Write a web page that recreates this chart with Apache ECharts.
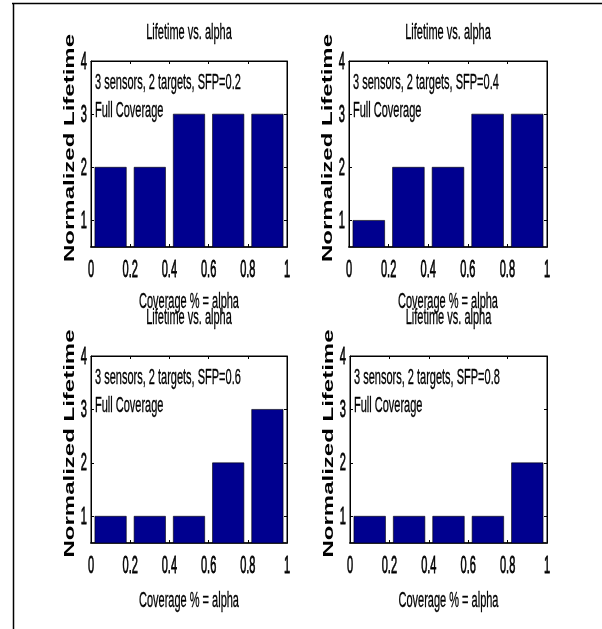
<!DOCTYPE html>
<html>
<head>
<meta charset="utf-8">
<script src="https://cdn.jsdelivr.net/npm/echarts@6/dist/echarts.min.js"></script>
<style>
  html, body { margin: 0; padding: 0; background: #fff; }
  #chart { width: 602px; height: 629px; }
</style>
</head>
<body>
<div id="chart"></div>
<script>
// Bar centres along the coverage axis (alpha bins)
const alphaCenters = [0.1, 0.3, 0.5, 0.7, 0.9];
// Normalized lifetime per bin, one array per sensor failure probability
const lifetimeSFP02 = [2, 2, 3, 3, 3];
const lifetimeSFP04 = [1, 2, 2, 3, 3];
const lifetimeSFP06 = [1, 1, 1, 2, 3];
const lifetimeSFP08 = [1, 1, 1, 1, 2];
const sfpLabels = ['0.2', '0.4', '0.6', '0.8'];
// Axis ranges and tick labels
const xMin = 0, xMax = 1, xStep = 0.2;
const yMin = 0.5, yMax = 4;
const xTickValues = [0, 0.2, 0.4, 0.6, 0.8, 1];
const xTickLabels = ['0', '0.2', '0.4', '0.6', '0.8', '1'];
const yTickValues = [1, 2, 3, 4];
const yTickLabels = ['1', '2', '3', '4'];
const titleText = 'Lifetime vs. alpha';
const xLabelText = 'Coverage % = alpha';
const yLabelText = 'Normalized Lifetime';
const noteLine2 = 'Full Coverage';

const panels = [lifetimeSFP02, lifetimeSFP04, lifetimeSFP06, lifetimeSFP08];

// Layout of the 2x2 subplot grid (pixels)
const gridBoxes = [
  { left: 91,  top: 61,  width: 196, height: 186, titleY: 33,  xlabY: 302 },
  { left: 349, top: 61,  width: 198, height: 186, titleY: 33,  xlabY: 302 },
  { left: 91,  top: 356, width: 196, height: 187, titleY: 318, xlabY: 601 },
  { left: 350, top: 356, width: 197, height: 187, titleY: 318, xlabY: 601 }
];

const BAR_HALF = 0.08;          // bar width 0.8 of the 0.2 spacing
const BAR_COLOR = '#00008F';
const SANS = '"Liberation Sans", Arial, sans-serif';
const FONT_SIZE = 22;
const TICK_FONT_SIZE = 24;
const SQUEEZE = 0.5;            // tall, condensed lettering
const TICK_SQUEEZE = 0.46;

const grid = [], xAxis = [], yAxis = [], series = [];

const tickStyle = { show: true, inside: true, length: 3, lineStyle: { color: '#000' } };

function textEl(x, y, text, opts) {
  opts = opts || {};
  return Object.assign({
    type: 'text', x: x, y: y, z: 100,
    scaleX: SQUEEZE,
    style: Object.assign({
      text: text, fill: '#000', fontFamily: SANS, fontSize: FONT_SIZE,
      stroke: '#000', lineWidth: 0.35,
      textAlign: 'center', textVerticalAlign: 'middle', align: 'center', verticalAlign: 'middle'
    }, opts.style || {})
  }, opts.el || {});
}

gridBoxes.forEach((g, i) => {
  grid.push({
    left: g.left, top: g.top, width: g.width, height: g.height,
    show: true, borderColor: '#000', borderWidth: 1, backgroundColor: '#fff'
  });
  // bottom x axis
  xAxis.push({
    gridIndex: i, type: 'value', position: 'bottom',
    min: xMin, max: xMax, interval: xStep,
    axisLine: { show: true, onZero: false, lineStyle: { color: '#222', width: 2 } },
    axisTick: tickStyle, axisLabel: { show: false }, splitLine: { show: false }
  });
  // top x axis: ticks only
  xAxis.push({
    gridIndex: i, type: 'value', position: 'top',
    min: xMin, max: xMax, interval: xStep,
    axisLine: { show: true, onZero: false, lineStyle: { color: '#000', width: 1 } },
    axisTick: tickStyle, axisLabel: { show: false }, splitLine: { show: false }
  });
  // left y axis
  yAxis.push({
    gridIndex: i, type: 'value', position: 'left',
    min: yMin, max: yMax,
    axisLine: { show: true, onZero: false, lineStyle: { color: '#000', width: 1 } },
    axisTick: Object.assign({ customValues: yTickValues }, tickStyle),
    axisLabel: { show: false, customValues: yTickValues }, splitLine: { show: false }
  });
  // right y axis: ticks only
  yAxis.push({
    gridIndex: i, type: 'value', position: 'right',
    min: yMin, max: yMax,
    axisLine: { show: true, onZero: false, lineStyle: { color: '#000', width: 1 } },
    axisTick: Object.assign({ customValues: yTickValues }, tickStyle),
    axisLabel: { show: false, customValues: yTickValues }, splitLine: { show: false }
  });

  // bars
  series.push({
    type: 'custom',
    xAxisIndex: i * 2, yAxisIndex: i * 2,
    data: alphaCenters.map((a, k) => [a, panels[i][k]]),
    clip: true, z: 1,
    renderItem: function (params, api) {
      const x = api.value(0), v = api.value(1);
      const p0 = api.coord([x - BAR_HALF, v]);
      const p1 = api.coord([x + BAR_HALF, yMin]);
      return {
        type: 'rect',
        shape: { x: p0[0], y: p0[1], width: p1[0] - p0[0], height: p1[1] - p0[1] },
        style: { fill: BAR_COLOR, stroke: '#000', lineWidth: 0.6 }
      };
    }
  });
});

const chart = echarts.init(document.getElementById('chart'), null, { renderer: 'canvas' });
chart.setOption({
  animation: false,
  backgroundColor: '#fff',
  grid: grid, xAxis: xAxis, yAxis: yAxis, series: series
});

// Text layer: tick labels are positioned through each grid's axis scales
const graphic = [];
gridBoxes.forEach((g, i) => {
  const finder = { xAxisIndex: i * 2, yAxisIndex: i * 2 };
  xTickValues.forEach((v, k) => {
    const p = chart.convertToPixel(finder, [v, yMin]);
    graphic.push(textEl(p[0], p[1] + 23, xTickLabels[k],
      { el: { scaleX: TICK_SQUEEZE }, style: { fontSize: TICK_FONT_SIZE, lineWidth: 0.8 } }));
  });
  yTickValues.forEach((v, k) => {
    const p = chart.convertToPixel(finder, [xMin, v]);
    graphic.push(textEl(p[0] - 4, p[1] + 1, yTickLabels[k],
      { el: { scaleX: TICK_SQUEEZE }, style: { fontSize: TICK_FONT_SIZE, lineWidth: 0.8, textAlign: 'right', align: 'right' } }));
  });

  const cx = g.left + g.width / 2;
  const cy = g.top + g.height / 2;
  graphic.push(textEl(cx, g.titleY, titleText));
  graphic.push(textEl(cx, g.xlabY, xLabelText));
  graphic.push(textEl(g.left + 4, g.top + 22, '3 sensors, 2 targets, SFP=' + sfpLabels[i],
    { style: { textAlign: 'left', align: 'left' } }));
  graphic.push(textEl(g.left + 4, g.top + 50, noteLine2,
    { style: { textAlign: 'left', align: 'left' } }));
  graphic.push(textEl(g.left - 21, cy - 6, yLabelText,
    { el: { rotation: Math.PI / 2, scaleX: 1.6 }, style: { fontSize: 15, fontWeight: 'bold', lineWidth: 0 } }));
});

// figure frame (top and left edges)
graphic.push({ type: 'line', z: 100, shape: { x1: 12, y1: 3.5, x2: 602, y2: 3.5 }, style: { stroke: '#000', lineWidth: 1.5 } });
graphic.push({ type: 'line', z: 100, shape: { x1: 13.5, y1: 3, x2: 13.5, y2: 629 }, style: { stroke: '#000', lineWidth: 1.5 } });

chart.setOption({ graphic: graphic });
</script>
</body>
</html>
